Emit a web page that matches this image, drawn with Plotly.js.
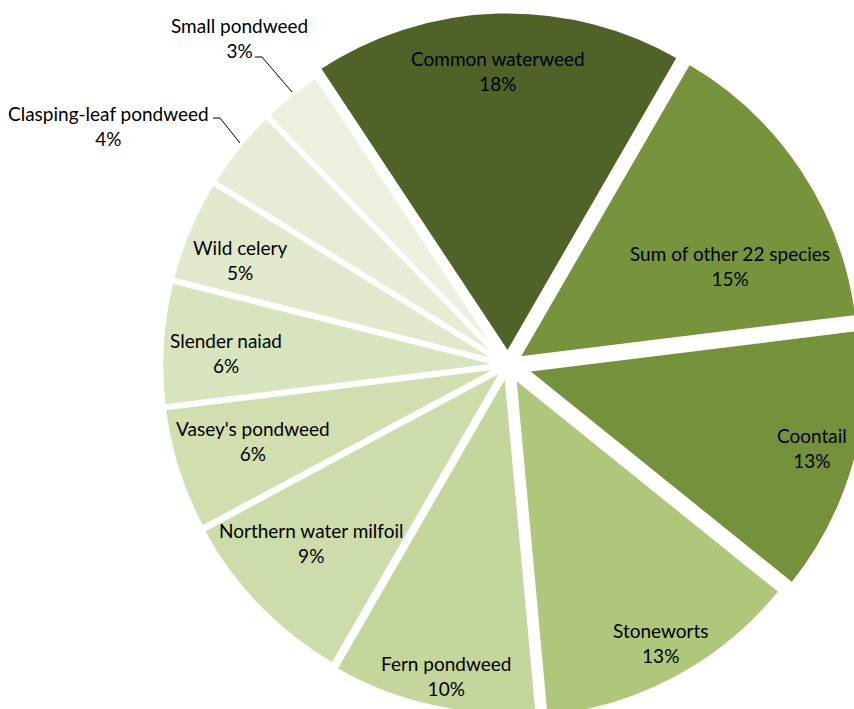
<!DOCTYPE html>
<html>
<head>
<meta charset="utf-8">
<script src="https://cdn.plot.ly/plotly-3.0.1.min.js"></script>
<style>
html, body { margin: 0; padding: 0; overflow: hidden; background: #fff; width: 854px; height: 709px; }
#chart { width: 1016px; height: 730px; }
</style>
</head>
<body>
<div id="chart"></div>
<script>
// ---- data ----
var labels = ["Common waterweed", "Sum of other 22 species", "Coontail", "Stoneworts",
  "Fern pondweed", "Northern water milfoil", "Vasey's pondweed", "Slender naiad",
  "Wild celery", "Clasping-leaf pondweed", "Small pondweed"];
var values = [18, 15, 13, 13, 10, 9, 6, 6, 5, 4, 3];

// ---- styles ----
var colors = ["#4F6228", "#77933C", "#76913B", "#AEC77A", "#C3D69B", "#CDDCAB",
  "#D0DEB0", "#D7E4BD", "#E0E9CC", "#E6EDD6", "#EBF1DE"];
var pulls = [0.03, 0.03, 0.05, 0.035, 0.02, 0.012, 0.01, 0.01, 0.01, 0.01, 0.01];

var W = 1016, H = 730, MT = 4, MB = 4;
function px(x) { return x / W; }
function py(y) { return (H - MB - y) / (H - MT - MB); }

// label block centres (pixels)
var labelPos = [[498, 71], [730, 266], [812, 448], [660, 643], [446, 676], [311, 543],
  [253, 441], [226, 353], [240, 260], [108, 126], [239, 38]];

var total = values.reduce(function (a, b) { return a + b; }, 0);
var annotations = labels.map(function (lab, i) {
  return {
    xref: 'paper', yref: 'paper', x: px(labelPos[i][0]), y: py(labelPos[i][1]),
    xanchor: 'center', yanchor: 'middle', showarrow: false,
    text: lab + '<br>' + Math.round(values[i] / total * 100) + '%',
    font: { family: 'Lato, sans-serif', size: 19, color: '#000' }
  };
});

var shapes = [
  { type: 'path', xref: 'paper', yref: 'paper',
    path: 'M' + px(255) + ',' + py(57) + 'L' + px(262) + ',' + py(57) + 'L' + px(292) + ',' + py(92),
    line: { color: '#000', width: 1 } },
  { type: 'path', xref: 'paper', yref: 'paper',
    path: 'M' + px(213) + ',' + py(118) + 'L' + px(220) + ',' + py(118) + 'L' + px(240) + ',' + py(143),
    line: { color: '#000', width: 1 } }
];

var trace = {
  type: 'pie',
  labels: labels,
  values: values,
  sort: false,
  direction: 'clockwise',
  rotation: -33.5,
  pull: pulls,
  textinfo: 'none',
  hoverinfo: 'label+percent',
  marker: { colors: colors, line: { color: '#ffffff', width: 5 } },
  showlegend: false
};

Plotly.newPlot('chart', [trace], {
  width: W, height: H,
  margin: { l: 0, r: 0, t: MT, b: MB },
  paper_bgcolor: '#fff',
  showlegend: false,
  annotations: annotations,
  shapes: shapes
}, { displayModeBar: false, staticPlot: true });
</script>
</body>
</html>
